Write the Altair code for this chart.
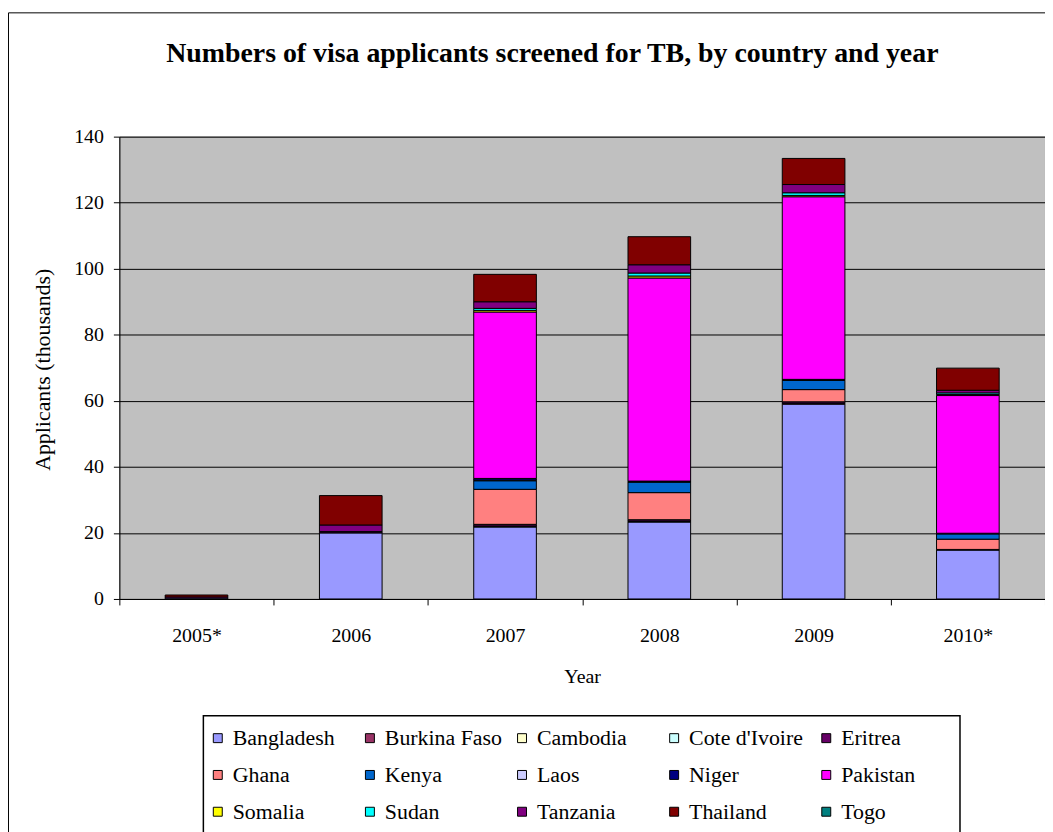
import altair as alt
import pandas as pd

years = ["2005*", "2006", "2007", "2008", "2009", "2010*"]
countries = ["Bangladesh", "Burkina Faso", "Cambodia", "Cote d'Ivoire", "Eritrea",
             "Ghana", "Kenya", "Laos", "Niger", "Pakistan",
             "Somalia", "Sudan", "Tanzania", "Thailand", "Togo"]
colors = ["#9999FF", "#993366", "#FFFFCC", "#CCFFFF", "#660066",
          "#FF8080", "#0066CC", "#CCCCFF", "#000080", "#FF00FF",
          "#FFFF00", "#00FFFF", "#800080", "#800000", "#008080"]

bangladesh = [0.3, 20.0, 21.8, 23.3, 59.0, 14.8]
burkina_faso = [0, 0, 0.2, 0.2, 0.2, 0]
cambodia = [0, 0, 0, 0, 0, 0]
cote_divoire = [0, 0, 0.1, 0.1, 0.1, 0]
eritrea = [0, 0.2, 0.5, 0.4, 0.4, 0.2]
ghana = [0, 0, 10.6, 8.2, 3.7, 3.1]
kenya = [0, 0, 2.6, 3.2, 2.8, 1.6]
laos = [0, 0, 0.2, 0.1, 0.1, 0]
niger = [0, 0, 0.5, 0.2, 0.2, 0.2]
pakistan = [0.3, 0.2, 50.4, 61.5, 55.3, 41.7]
somalia = [0, 0, 0.5, 0.6, 0.4, 0.3]
sudan = [0, 0, 0.6, 0.9, 0.8, 0.5]
tanzania = [0, 2.0, 2.0, 2.5, 2.5, 0.8]
thailand = [0.6, 8.9, 8.3, 8.5, 7.9, 6.7]
togo = [0, 0, 0, 0, 0, 0]

series = [bangladesh, burkina_faso, cambodia, cote_divoire, eritrea,
          ghana, kenya, laos, niger, pakistan,
          somalia, sudan, tanzania, thailand, togo]

rows = []
for i, (c, vals) in enumerate(zip(countries, series)):
    for y, v in zip(years, vals):
        rows.append({"country": c, "year": y, "value": v, "idx": i})
df = pd.DataFrame(rows)

FONT = "Liberation Serif"

bars = alt.Chart(df).transform_filter("datum.value > 0").mark_bar(
    size=63, stroke="black", strokeWidth=1
).encode(
    x=alt.X("year:N", sort=years,
            scale=alt.Scale(paddingInner=0, paddingOuter=0),
            axis=alt.Axis(title="Year", tickBand="extent", labelAngle=0,
                          labelFont=FONT, titleFont=FONT,
                          labelFontSize=20, labelPadding=21, tickSize=6,
                          titleFontSize=20, titleFontWeight="normal",
                          titleY=78, titleBaseline="middle", grid=False)),
    y=alt.Y("value:Q", stack="zero",
            scale=alt.Scale(domain=[0, 140], nice=False),
            axis=alt.Axis(title="Applicants (thousands)",
                          values=[0, 20, 40, 60, 80, 100, 120, 140],
                          labelFont=FONT, titleFont=FONT,
                          labelFontSize=20, labelPadding=10, tickSize=6,
                          titleFontSize=22, titleFontWeight="normal",
                          titleX=-77, titleY=234, titleAngle=270,
                          titleAlign="center", titleBaseline="middle",
                          grid=True, gridColor="black", gridWidth=1)),
    color=alt.Color("country:N",
                    scale=alt.Scale(domain=countries, range=colors),
                    legend=alt.Legend(orient="none", legendX=84, legendY=590,
                                      direction="horizontal",
                                      columns=5, title=None,
                                      symbolType="square", symbolSize=81,
                                      symbolStrokeColor="black", symbolStrokeWidth=1,
                                      symbolOpacity=1,
                                      labelFont=FONT, labelFontSize=22,
                                      labelOffset=4, labelColor="black",
                                      columnPadding=9, rowPadding=15,
                                      padding=4,
                                      gridAlign="all", labelLimit=200)),
    order=alt.Order("idx:Q", sort="ascending"),
)

# decorative outlines: the chart frame and the legend box
frame = alt.Chart(pd.DataFrame({"a": [0]})).mark_rect(
    filled=False, stroke="black", strokeWidth=1, clip=False
).encode(
    x=alt.value(-111.5), x2=alt.value(1000),
    y=alt.value(-124.5), y2=alt.value(800),
)
legend_box = alt.Chart(pd.DataFrame({"a": [0]})).mark_rect(
    filled=False, stroke="black", strokeWidth=1.5, clip=False
).encode(
    x=alt.value(84.5), x2=alt.value(845.5),
    y=alt.value(582.5), y2=alt.value(720),
)

chart = alt.layer(frame, legend_box, bars).properties(
    width=931, height=465,
    padding={"left": 112, "top": 127, "right": 0, "bottom": 232},
    autosize=alt.AutoSizeParams(type="none"),
    background="white",
    title=alt.TitleParams(
        text="Numbers of visa applicants screened for TB, by country and year",
        font=FONT, fontSize=28, fontWeight="bold", color="black",
        anchor="middle", dx=-30, offset=-78, baseline="alphabetic",
    ),
).configure_view(
    fill="#C0C0C0", stroke="#808080", strokeWidth=1
).configure_axis(
    labelFont=FONT, titleFont=FONT, labelColor="black", titleColor="black",
    domainColor="black", tickColor="black", domainWidth=1, tickWidth=1,
)

chart.save("out.html", embed_options={"renderer": "svg", "actions": False})
